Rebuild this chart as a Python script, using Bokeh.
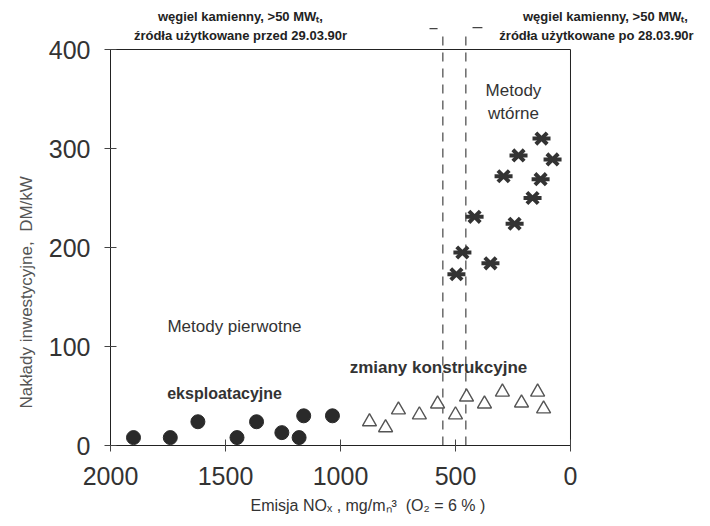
from bokeh.plotting import figure
from bokeh.models import Range1d, FixedTicker, Title
from bokeh.core.properties import value
from bokeh.embed import file_html
from bokeh.resources import INLINE

# --- data ---
prim_x = [1900, 1740, 1620, 1450, 1365, 1255, 1180, 1160, 1035]
prim_y = [8, 8, 24, 8, 24, 13, 8, 30, 30]

constr_x = [874, 804, 748, 657, 578, 500, 452, 374, 296, 213, 143, 117]
constr_y = [24, 18, 36, 31, 42, 31, 49, 42, 54, 43, 54, 37]

sec_x = [126, 226, 78, 291, 130, 165, 417, 243, 470, 348, 496]
sec_y = [310, 293, 289, 272, 269, 250, 231, 224, 195, 184, 173]

limit_x = [555, 455]          # emission limits (dashed lines)
x_ticks = [0, 500, 1000, 1500, 2000]
y_ticks = [0, 100, 200, 300, 400]

X_MAX, Y_MAX = 2000, 400
NB = "\u00a0"

FONT = value("Liberation Sans")

p = figure(width=710, height=526,
           x_range=Range1d(2000, -608.7), y_range=Range1d(0, 449.5),
           output_backend="svg", toolbar_location=None,
           min_border_left=110, min_border_right=0,
           min_border_top=0, min_border_bottom=81)
p.outline_line_color = None
p.xgrid.visible = False
p.ygrid.visible = False
p.background_fill_color = "white"
p.border_fill_color = "white"

# axes
xa = p.xaxis[0]
xa.bounds = (0, X_MAX)
xa.ticker = FixedTicker(ticks=x_ticks)
xa.minor_tick_line_color = None
xa.major_tick_in = 6
xa.major_tick_out = 6
xa.major_label_standoff = 15
xa.major_label_text_font = "Liberation Sans"
xa.major_label_text_font_size = "25px"
xa.major_label_text_color = "#333333"
xa.axis_line_color = "#222222"
xa.major_tick_line_color = "#444444"

ya = p.yaxis[0]
ya.bounds = (0, Y_MAX)
ya.ticker = FixedTicker(ticks=y_ticks)
ya.minor_tick_line_color = None
ya.major_tick_in = 6
ya.major_tick_out = 6
ya.major_label_standoff = 14
ya.major_label_text_font = "Liberation Sans"
ya.major_label_text_font_size = "25px"
ya.major_label_text_color = "#333333"
ya.axis_line_color = "#222222"
ya.major_tick_line_color = "#444444"

# axis titles (as side titles, so that they can be offset like the reference)
p.add_layout(Title(text="Emisja NOₓ , mg/mₙ³" + NB + NB + "(O₂ = 6 % )",
                   align="left", offset=140, standoff=15,
                   text_font="Liberation Sans", text_font_size="16px",
                   text_font_style="normal", text_color="#333333"), "below")
p.add_layout(Title(text="Nakłady inwestycyjne," + NB + NB + "DM/kW",
                   align="left", offset=37, standoff=19,
                   text_font="Liberation Sans", text_font_size="17px",
                   text_font_style="normal", text_color="#555555"), "left")

# frame (top and right sides of the box)
p.segment(x0=[X_MAX, 0], y0=[Y_MAX, 0], x1=[0, 0], y1=[Y_MAX, Y_MAX],
          line_color="#222222", line_width=1)

# dashed limit lines and their small top marks
p.segment(x0=limit_x, y0=[0, 0], x1=limit_x, y1=[414, 416],
          line_color="#444444", line_width=1.2, line_dash="9 7")
p.segment(x0=[613, 426], y0=[421, 422], x1=[578, 383], y1=[421, 422],
          line_color="#444444", line_width=1.2)

# markers
p.scatter(prim_x, prim_y, marker="circle", size=14,
          fill_color="#2a2a2a", line_color="#2a2a2a")
p.scatter(constr_x, constr_y, marker="triangle", size=14,
          fill_color="white", line_color="#555555", line_width=1.4)
p.scatter(sec_x, sec_y, marker="x", size=16,
          line_color="#333333", line_width=4)
p.scatter(sec_x, sec_y, marker="dash", size=18,
          line_color="#333333", line_width=4)

# texts
def txt(x, y, s, size, style="normal", color="#333333"):
    p.text(x=[x], y=[y], text=[s], text_font=FONT,
           text_font_size=value(size), text_font_style=style,
           text_color=color, text_align="center", text_baseline="middle")

txt(1461, 120, "Metody pierwotne", "17px")
txt(1504, 52.5, "eksploatacyjne", "16px", "bold")
txt(574, 79, "zmiany konstrukcyjne", "17px", "bold")
txt(248, 358.6, "Metody", "17px")
txt(248, 335, "wtórne", "17px")

txt(1435, 433, "węgiel kamienny, >50 MWₜ,", "13px", "bold", "#222222")
txt(1435, 414, "źródła użytkowane przed 29.03.90r", "13px", "bold", "#222222")
txt(-152, 433, "węgiel kamienny, >50 MWₜ,", "13px", "bold", "#222222")
txt(-113, 414, "źródła użytkowane po 28.03.90r", "13px", "bold", "#222222")

open("out.html", "w").write(file_html(p, INLINE))
